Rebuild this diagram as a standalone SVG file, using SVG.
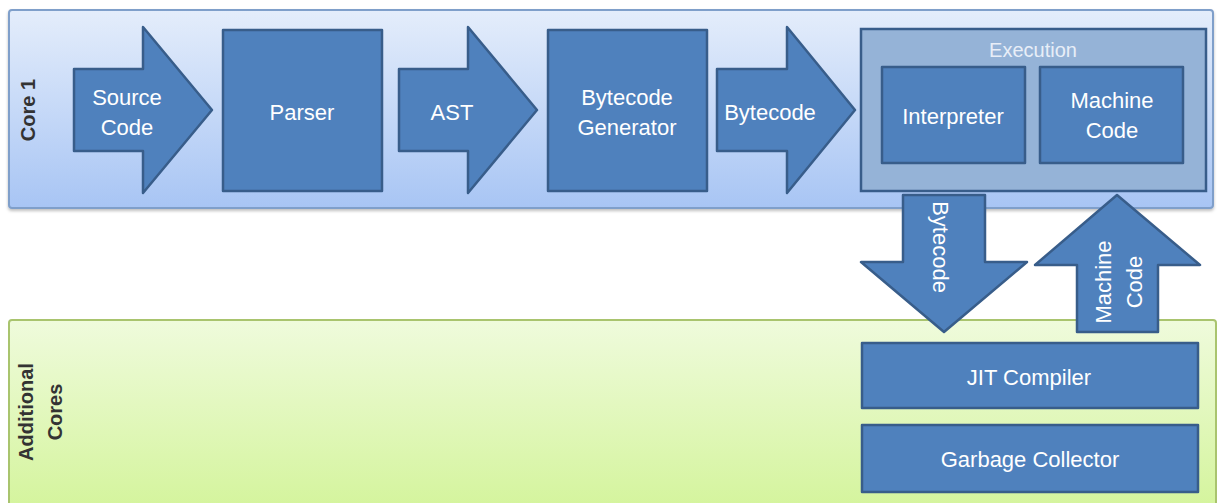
<svg xmlns="http://www.w3.org/2000/svg" width="1218" height="503" viewBox="0 0 1218 503">
<defs>
<linearGradient id="gBlue" x1="0" y1="0" x2="0" y2="1">
<stop offset="0" stop-color="#e4edfb"/>
<stop offset="1" stop-color="#a8c5f4"/>
</linearGradient>
<linearGradient id="gGreen" x1="0" y1="0" x2="0" y2="1">
<stop offset="0" stop-color="#effbdc"/>
<stop offset="1" stop-color="#d4f49c"/>
</linearGradient>
<filter id="sh" x="-5%" y="-5%" width="110%" height="115%">
<feDropShadow dx="0" dy="2" stdDeviation="1.5" flood-color="#000" flood-opacity="0.25"/>
</filter>
</defs>
<style>
.node{fill:#4f81bd;stroke:#385d8a;stroke-width:2.5;stroke-linejoin:round}
.exec{fill:#95b3d7;stroke:#385d8a;stroke-width:2.5}
.t{font-family:"Liberation Sans",Arial,sans-serif;font-size:22px;fill:#ffffff;text-anchor:middle;dominant-baseline:central}
.lbl{font-family:"Liberation Sans",Arial,sans-serif;font-size:20px;font-weight:bold;fill:#333333;text-anchor:middle;dominant-baseline:central}
</style>
<rect width="1218" height="503" fill="#ffffff"/>

<g id="core1">
<rect x="9" y="10" width="1204" height="198" rx="3" fill="url(#gBlue)" stroke="#7f9fca" stroke-width="2" filter="url(#sh)"/>
<text class="lbl" transform="translate(28,110) rotate(-90)">Core 1</text>
</g>

<g id="additional-cores">
<rect x="9" y="320" width="1207" height="190" rx="3" fill="url(#gGreen)" stroke="#a9c46e" stroke-width="2"/>
<text class="lbl" transform="translate(26,412) rotate(-90)">Additional</text>
<text class="lbl" transform="translate(55,412) rotate(-90)">Cores</text>
</g>

<g id="parser">
<rect class="node" x="223" y="30" width="159" height="161"/>
<text class="t" x="302" y="112">Parser</text>
</g>

<g id="bytecode-generator">
<rect class="node" x="548" y="30" width="159" height="161"/>
<text class="t" x="627" y="97">Bytecode</text>
<text class="t" x="627" y="127">Generator</text>
</g>

<g id="execution">
<rect class="exec" x="861" y="29" width="345" height="162"/>
<text class="t" x="1033" y="50" style="fill:#e8eef7;font-size:20px">Execution</text>
</g>

<g id="interpreter">
<rect class="node" x="882" y="67" width="143" height="96"/>
<text class="t" x="953" y="116">Interpreter</text>
</g>

<g id="machine-code">
<rect class="node" x="1040" y="67" width="143" height="96"/>
<text class="t" x="1112" y="100">Machine</text>
<text class="t" x="1112" y="130">Code</text>
</g>

<g id="jit-compiler">
<rect class="node" x="862" y="343" width="336" height="65"/>
<text class="t" x="1029" y="377">JIT Compiler</text>
</g>

<g id="garbage-collector">
<rect class="node" x="862" y="425" width="336" height="67"/>
<text class="t" x="1030" y="459">Garbage Collector</text>
</g>

<g id="connectors">
<g id="arrow-source-code">
<polygon class="node" points="74,69 143,69 143,27 212,110 143,193 143,151 74,151"/>
<text class="t" x="127" y="97">Source</text>
<text class="t" x="127" y="127">Code</text>
</g>
<g id="arrow-ast">
<polygon class="node" points="399,69 468,69 468,27 537,110 468,193 468,151 399,151"/>
<text class="t" x="452" y="112">AST</text>
</g>
<g id="arrow-bytecode">
<polygon class="node" points="717,69 787,69 787,27 855,110 787,193 787,151 717,151"/>
<text class="t" x="770" y="112">Bytecode</text>
</g>
<g id="arrow-bytecode-down">
<polygon class="node" points="903,195 985,195 985,262 1027,262 944,332 861,262 903,262"/>
<text class="t" transform="translate(940,247) rotate(90)">Bytecode</text>
</g>
<g id="arrow-machine-code-up">
<polygon class="node" points="1117,195 1200,265 1158,265 1158,332 1077,332 1077,265 1035,265"/>
<text class="t" transform="translate(1103,282) rotate(-90)">Machine</text>
<text class="t" transform="translate(1134,282) rotate(-90)">Code</text>
</g>
</g>
</svg>
